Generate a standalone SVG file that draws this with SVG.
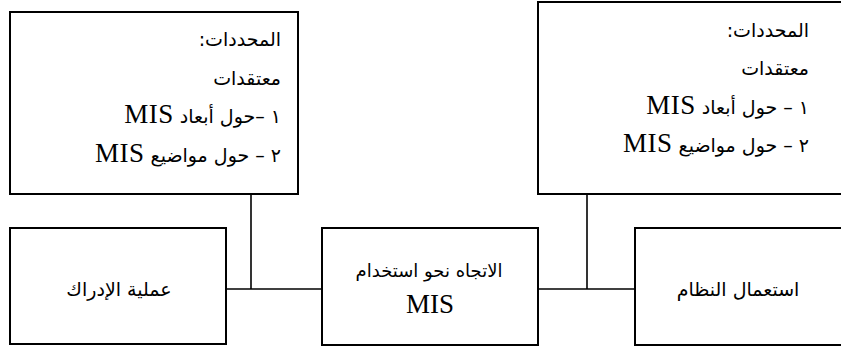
<svg xmlns="http://www.w3.org/2000/svg" width="841" height="351" viewBox="0 0 841 351">
<style>
.box{fill:#fff;stroke:#000;stroke-width:2}
.ln{fill:none;stroke:#000;stroke-width:1.6}
.t{font-family:"DejaVu Sans","Noto Sans",sans-serif;font-size:19px;fill:#000}
.m{font-family:"Liberation Serif","Times New Roman","DejaVu Serif",serif;font-size:27px;letter-spacing:0.5px}
.r{direction:rtl;text-anchor:start}
.c{direction:rtl;text-anchor:middle}
</style>
<rect width="841" height="351" fill="#fff"/>
<g id="connectors">
<line class="ln" x1="251" y1="194" x2="251" y2="289"/>
<line class="ln" x1="587" y1="194" x2="587" y2="289"/>
<line class="ln" x1="226" y1="289" x2="322" y2="289"/>
<line class="ln" x1="538" y1="289" x2="635" y2="289"/>
</g>
<g id="constraints-left">
<rect class="box" x="10" y="12" width="288" height="182"/>
<text class="t r" x="281" y="46">المحددات:</text>
<text class="t r" x="281" y="85">معتقدات</text>
<text class="t r" x="281" y="123">١ –حول أبعاد <tspan class="m">MIS</tspan></text>
<text class="t r" x="281" y="162">٢ – حول مواضيع <tspan class="m">MIS</tspan></text>
</g>
<g id="constraints-right">
<rect class="box" x="538" y="2" width="310" height="192"/>
<text class="t r" x="809" y="37">المحددات:</text>
<text class="t r" x="809" y="75">معتقدات</text>
<text class="t r" x="809" y="114">١ – حول أبعاد <tspan class="m">MIS</tspan></text>
<text class="t r" x="809" y="152">٢ – حول مواضيع <tspan class="m">MIS</tspan></text>
</g>
<g id="perception">
<rect class="box" x="10" y="228" width="216" height="116"/>
<text class="t c" x="119" y="296">عملية الإدراك</text>
</g>
<g id="attitude">
<rect class="box" x="322" y="228" width="216" height="117"/>
<text class="t c" x="429" y="277" style="font-size:18px">الاتجاه نحو استخدام</text>
<text class="m" x="430" y="313" text-anchor="middle" style="letter-spacing:0">MIS</text>
</g>
<g id="usage">
<rect class="box" x="635" y="228" width="213" height="117"/>
<text class="t c" x="738" y="296">استعمال النظام</text>
</g>
</svg>
